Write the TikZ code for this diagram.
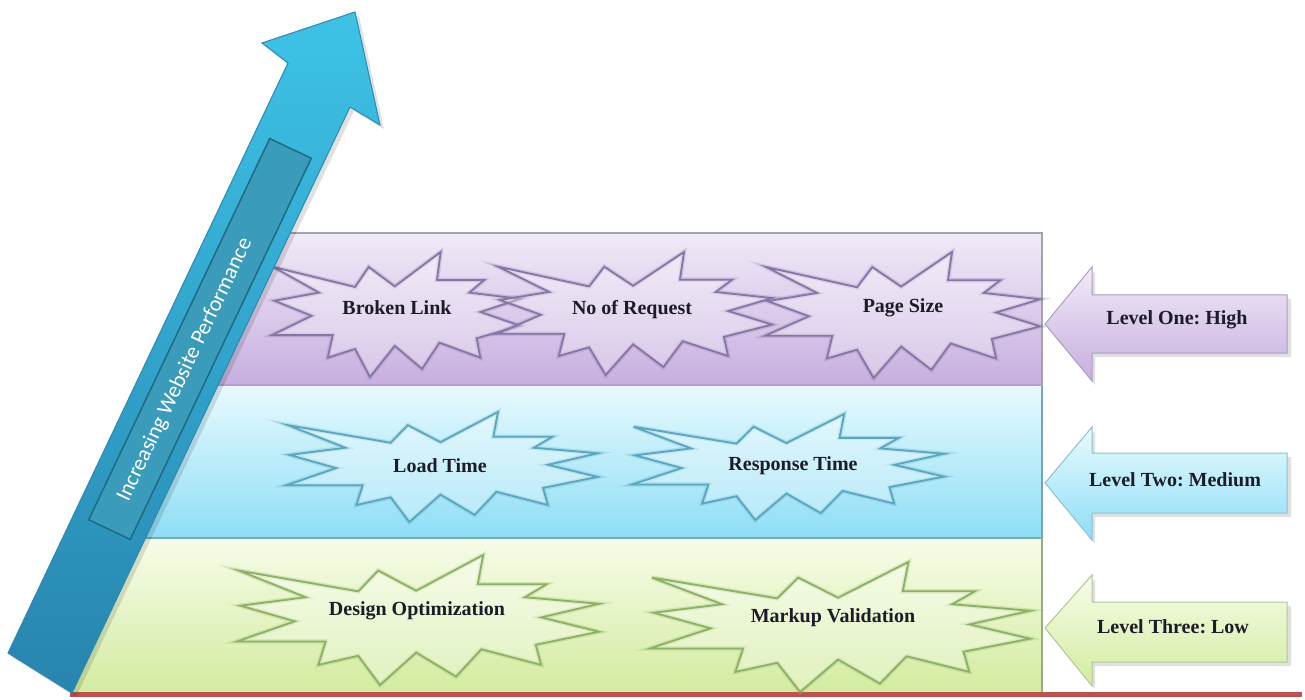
\documentclass[tikz,border=0pt]{standalone}
\usepackage{fontspec}
\setmainfont{Liberation Serif}
\newfontfamily\arrowfont{Carlito}
\frenchspacing
\begin{document}
% burst outline in unit coordinates (-1..1 in both directions)
\def\burstshape{(-0.99,-0.76) -- (-0.33,-0.44) -- (-0.22,-0.76) -- (-0.01,-0.45) -- (0.36,-1.0) -- (0.33,-0.55) -- (0.71,-0.55) -- (0.59,-0.35) -- (1.0,-0.25) -- (0.68,-0.04) -- (1.0,0.18) -- (0.65,0.38) -- (0.68,0.69) -- (0.35,0.45) -- (0.21,0.87) -- (-0.01,0.5) -- (-0.21,1.0) -- (-0.33,0.55) -- (-0.55,0.69) -- (-0.51,0.33) -- (-1.0,0.33) -- (-0.68,0.02) -- (-0.98,-0.22) -- (-0.62,-0.35) -- cycle}
\begin{tikzpicture}[x=1pt,y=-1pt]
\definecolor{purpletop}{HTML}{F1EBF8}
\definecolor{purplebot}{HTML}{C7AEDF}
\definecolor{purpleline}{HTML}{B89DD4}
\definecolor{purpleedge}{HTML}{8775A6}
\definecolor{bluetop}{HTML}{E8FAFE}
\definecolor{bluebot}{HTML}{8EDEF6}
\definecolor{blueline}{HTML}{74AE9E}
\definecolor{blueedge}{HTML}{5AA6BF}
\definecolor{greentop}{HTML}{F7FCE9}
\definecolor{greenbot}{HTML}{D3ECA0}
\definecolor{greenedge}{HTML}{8DB064}
\definecolor{frame}{HTML}{A3A3AB}
\definecolor{groundred}{HTML}{C0504D}
\definecolor{arrowtop}{HTML}{3DC3E7}
\definecolor{arrowbot}{HTML}{2784AE}
\definecolor{arrowedge}{HTML}{2A8AB2}
\definecolor{boxfill}{HTML}{3A9BBA}
\definecolor{boxedge}{HTML}{1F6A84}
\definecolor{inktext}{HTML}{1C1C28}
\tikzset{
  pics/burst/.style={code={
    \path[draw=#1, draw opacity=0.25, line width=4.5pt, line join=miter] \burstshape;
    \path[draw=#1, fill=white, fill opacity=0.3, line width=1.8pt, line join=miter] \burstshape;
  }},
  bursttext/.style={text=inktext, font=\bfseries\fontsize{20}{24}\selectfont, inner sep=0pt},
  leveltext/.style={text=inktext, font=\bfseries\fontsize{20}{24}\selectfont, inner sep=0pt},
  levelshadow/.style={fill=black, fill opacity=0.12},
}
\useasboundingbox (0,0) rectangle (1305,700);

% ---- three level bands, left edge running along the big arrow
\shade[top color=purpletop, bottom color=purplebot] (290.2,233) -- (1042,233) -- (1042,385) -- (218.1,385) -- cycle;
\shade[top color=bluetop, bottom color=bluebot] (218.1,385) -- (1042,385) -- (1042,538) -- (145.5,538) -- cycle;
\shade[top color=greentop, bottom color=greenbot] (145.5,538) -- (1042,538) -- (1042,692) -- (72.5,692) -- cycle;
\draw[frame, line width=1.5pt] (290.2,233) -- (1042,233) -- (1042,385);
\draw[blueedge!60!frame, line width=1.5pt] (1042,385) -- (1042,538);
\draw[greenedge!50!frame, line width=1.5pt] (1042,538) -- (1042,692);
\draw[purpleline, line width=2pt] (218.1,385) -- (1042,385);
\draw[blueline, line width=2pt] (145.5,538) -- (1042,538);
\draw[groundred, line width=5pt] (70,694.5) -- (1302,694.5);

% ---- bursts, level one
\pic[xscale=124, yscale=62.5] at (396,314.5) {burst=purpleedge};
\pic[xscale=137.5, yscale=61.5] at (634.5,313.5) {burst=purpleedge};
\pic[xscale=137.5, yscale=63] at (902.5,315) {burst=purpleedge};
\node[bursttext] (broken) at (397,308) {Broken Link};
\node[bursttext] (requests) at (632,310) {No of Request};
\node[bursttext] (pagesize) at (903,308) {Page Size};

% ---- bursts, level two
\pic[xscale=155.5, yscale=55] at (442,467) {burst=blueedge};
\pic[xscale=156, yscale=53] at (788,467) {burst=blueedge};
\node[bursttext] (loadtime) at (440,466) {Load Time};
\node[bursttext] (response) at (793,466) {Response Time};

% ---- bursts, level three
\pic[xscale=181, yscale=65] at (418,620) {burst=greenedge};
\pic[xscale=190, yscale=65] at (840,627) {burst=greenedge};
\node[bursttext] (design) at (417,611) {Design Optimization};
\node[bursttext] (markup) at (833,618) {Markup Validation};

% ---- level arrows on the right
\fill[levelshadow] (1048,328) -- (1095,271) -- (1095,299) -- (1291,299) -- (1291,357) -- (1095,357) -- (1095,385) -- cycle;
\shade[top color=purpletop, bottom color=purplebot, draw=purpleedge!70, line width=1pt]
  (1045,324) -- (1092,267) -- (1092,295) -- (1287,295) -- (1287,353) -- (1092,353) -- (1092,381) -- cycle;
\fill[levelshadow] (1048,487) -- (1095,431) -- (1095,457) -- (1291,457) -- (1291,517) -- (1095,517) -- (1095,544) -- cycle;
\shade[top color=bluetop, bottom color=bluebot, draw=blueedge!70, line width=1pt]
  (1045,483) -- (1092,427) -- (1092,453) -- (1287,453) -- (1287,513) -- (1092,513) -- (1092,540) -- cycle;
\fill[levelshadow] (1048,632) -- (1095,579) -- (1095,606) -- (1291,606) -- (1291,666) -- (1095,666) -- (1095,689) -- cycle;
\shade[top color=greentop, bottom color=greenbot, draw=greenedge!70, line width=1pt]
  (1045,628) -- (1092,575) -- (1092,602) -- (1287,602) -- (1287,662) -- (1092,662) -- (1092,686) -- cycle;
\node[leveltext] (levelone) at (1177,320) {Level One: High};
\node[leveltext] (leveltwo) at (1175,480) {Level Two: Medium};
\node[leveltext] (levelthree) at (1173,627) {Level Three: Low};

% ---- rising arrow
\fill[black, fill opacity=0.12] (12,657) -- (292,67) -- (266,47) -- (359,16) -- (384,129) -- (354,111) -- (76,697) -- cycle;
\shade[top color=arrowtop, bottom color=arrowbot, draw=arrowedge, line width=1pt]
  (8,653) -- (288,63) -- (262,43) -- (355,12) -- (380,125) -- (350,107) -- (72,693) -- cycle;
\node[draw=boxedge, fill=boxfill, line width=1.5pt, rotate=64.6, minimum width=422pt, minimum height=46pt, inner sep=0pt] (axisbox) at (200,339) {};
\node[text=white, rotate=64.6, font=\arrowfont\fontsize{22}{26}\selectfont, inner sep=0pt] (axislabel) at (185,370) {Increasing Website Performance};
\end{tikzpicture}
\end{document}
